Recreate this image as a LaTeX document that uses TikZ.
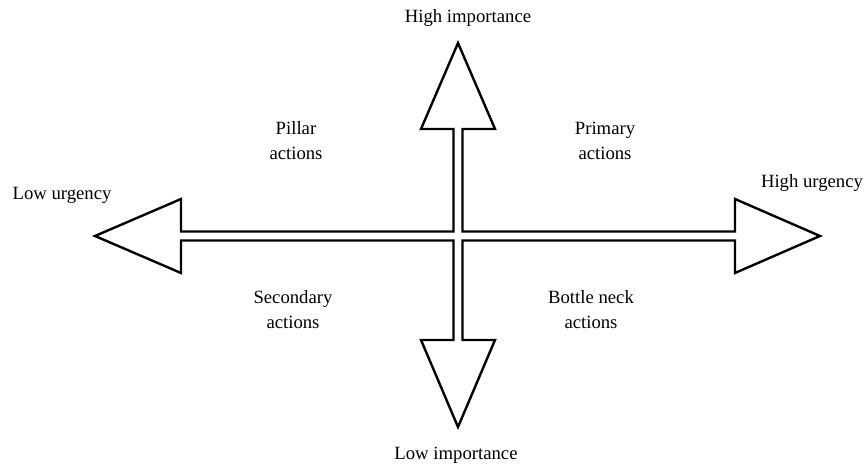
\documentclass[tikz,border=0pt]{standalone}
\usepackage{fontspec}
\setmainfont{Liberation Serif}
\usetikzlibrary{calc}

\begin{document}
\begin{tikzpicture}[x=1pt,y=1pt,
      lbl/.style={font=\fontsize{18.7}{25}\selectfont,align=center,inner sep=0pt}]
      \useasboundingbox (0,0) rectangle (864,468);
      \coordinate (O) at (458,232);
      \def\w{4.5}
      \def\b{37}
      % the four hollow arrows as one outline
      \begin{scope}[shift={(O)},line width=2.4pt,line join=miter]
      \draw (-\w,\w) -- (-\w,107) -- (-\b,107) -- (0,193) -- (\b,107) -- (\w,107)
            -- (\w,\w) -- (277,\w) -- (277,\b) -- (362,0) -- (277,-\b) -- (277,-\w)
            -- (\w,-\w) -- (\w,-104) -- (\b,-104) -- (0,-191) -- (-\b,-104) -- (-\w,-104)
            -- (-\w,-\w) -- (-277,-\w) -- (-277,-\b) -- (-363,0) -- (-277,\b) -- (-277,\w)
            -- cycle;
      \end{scope}

      \node[lbl] (himp) at (468,450) {High importance};
      \node[lbl] (limp) at (456,13) {Low importance};
      \node[lbl] (lurg) at (62,273) {Low urgency};
      \node[lbl] (hurg) at (812,285) {High urgency};

      \node[lbl] (pillar) at (296,327.5) {Pillar\\actions};
      \node[lbl] (primary) at (605,327.5) {Primary\\actions};
      \node[lbl] (second) at (293,158.5) {Secondary\\actions};
      \node[lbl] (bneck) at (591,158.5) {Bottle neck\\actions};
    \end{tikzpicture}
\end{document}
